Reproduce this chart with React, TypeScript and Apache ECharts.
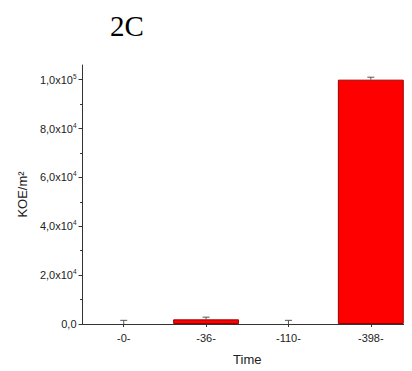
import React, { useEffect, useRef } from "react";
import * as echarts from "echarts";

const categories = ["-0-", "-36-", "-110-", "-398-"];
const values = [0, 1900, 0, 100000];
const errors = [1500, 900, 1500, 1000];
const yTicks = [0, 20000, 40000, 60000, 80000, 100000];
const yMinorTicks = [10000, 30000, 50000, 70000, 90000];
const yMax = 106000;
const yLabels: Record<number, string> = {
  0: "0,0",
  20000: "2,0x10{s|4}",
  40000: "4,0x10{s|4}",
  60000: "6,0x10{s|4}",
  80000: "8,0x10{s|4}",
  100000: "1,0x10{s|5}",
};

export default function App() {
  const ref = useRef<HTMLDivElement>(null);
  useEffect(() => {
    if (!ref.current) return;
    const chart = echarts.init(ref.current, undefined, { renderer: "svg" });
    const axisColor = "#333";
    chart.setOption({
      animation: false,
      backgroundColor: "#fff",
      title: {
        text: "2C",
        left: 97,
        top: -2,
        textStyle: {
          fontFamily: "Liberation Serif",
          fontSize: 29,
          fontWeight: "normal",
          color: "#000",
        },
      },
      grid: { left: 72, top: 57, width: 336, height: 263 },
      xAxis: {
        type: "category",
        data: categories,
        name: "Time",
        nameLocation: "middle",
        nameGap: 29,
        nameTextStyle: { fontFamily: "Liberation Sans", fontSize: 13, color: "#222" },
        axisLine: { lineStyle: { color: axisColor, width: 1 } },
        axisTick: { show: true, alignWithLabel: true, length: 3, lineStyle: { color: axisColor } },
        axisLabel: { fontFamily: "Liberation Sans", fontSize: 11, color: "#222", margin: 8 },
      },
      yAxis: [
        {
          type: "value",
          min: 0,
          max: yMax,
          name: "KOE/m²",
          nameLocation: "middle",
          nameGap: 40,
          nameRotate: 90,
          nameTextStyle: { fontFamily: "Liberation Sans", fontSize: 13, color: "#222" },
          splitLine: { show: false },
          axisLine: { show: true, lineStyle: { color: axisColor, width: 1 } },
          axisTick: { show: true, length: 4, customValues: yTicks, lineStyle: { color: axisColor } },
          axisLabel: {
            customValues: yTicks,
            fontFamily: "Liberation Sans",
            fontSize: 11,
            color: "#222",
            margin: 6,
            formatter: (v: number) => yLabels[v] ?? "",
            rich: {
              s: { fontSize: 6.5, verticalAlign: "top", padding: [0, 0, 7, 0], fontFamily: "Liberation Sans", color: "#222" },
            },
          },
        },
        {
          type: "value",
          position: "left",
          min: 0,
          max: yMax,
          splitLine: { show: false },
          axisLine: { show: false },
          axisLabel: { show: false },
          axisTick: { show: true, length: 2.5, customValues: yMinorTicks, lineStyle: { color: axisColor } },
        },
      ],
      series: [
        {
          type: "bar",
          data: values.map((v) => (v === 0 ? { value: v, itemStyle: { borderWidth: 0 } } : v)),
          barCategoryGap: "20%",
          itemStyle: { color: "#ff0000", borderColor: "#9a0000", borderWidth: 1 },
        },
        {
          type: "custom",
          data: values.map((v, i) => [i, v, errors[i]]),
          renderItem: (params: any, api: any) => {
            const i = api.value(0);
            const v = api.value(1);
            const e = api.value(2);
            const p0 = api.coord([i, v]);
            const p1 = api.coord([i, v + e]);
            const hw = 3.5;
            return {
              type: "group",
              children: [
                { type: "line", shape: { x1: p0[0], y1: p0[1], x2: p1[0], y2: p1[1] }, style: { stroke: "#555", lineWidth: 1 } },
                { type: "line", shape: { x1: p1[0] - hw, y1: p1[1], x2: p1[0] + hw, y2: p1[1] }, style: { stroke: "#555", lineWidth: 1 } },
              ],
            };
          },
          z: 5,
        },
      ],
    });
    return () => chart.dispose();
  }, []);
  return <div ref={ref} style={{ width: 404, height: 363 }} />;
}
